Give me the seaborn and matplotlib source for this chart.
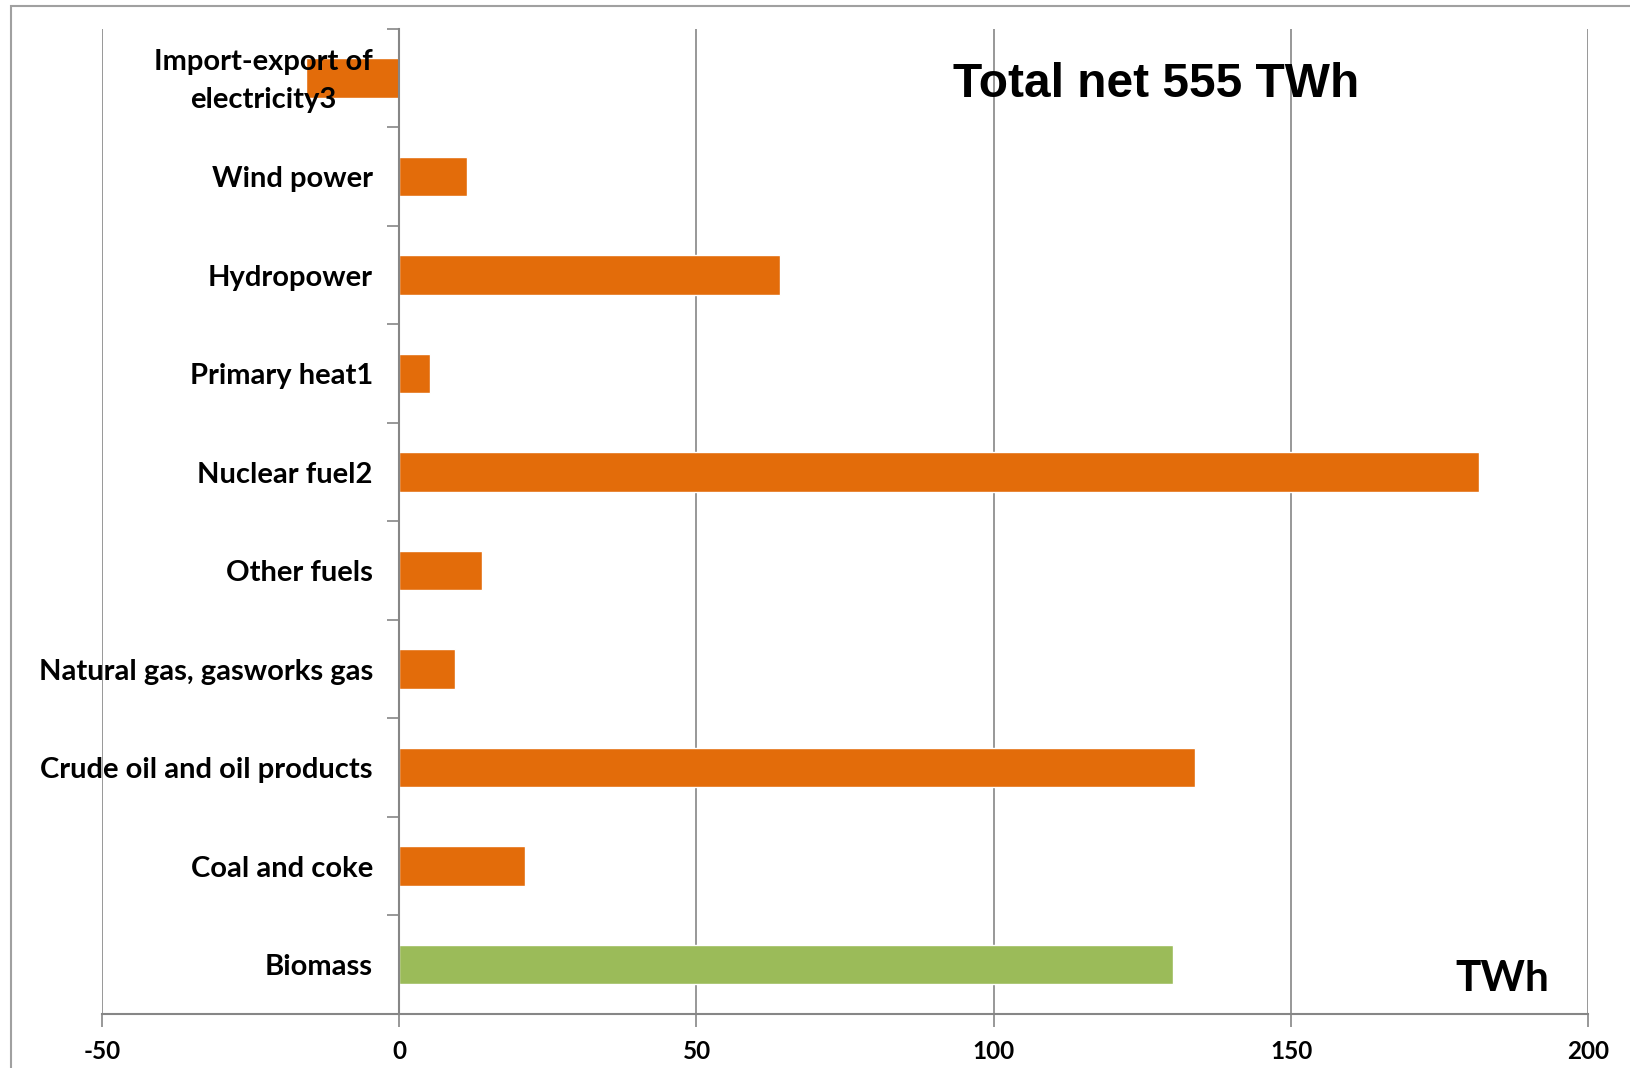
import matplotlib
matplotlib.use("Agg")
import matplotlib.pyplot as plt
import matplotlib.patches as mpatches
import seaborn as sns
import pandas as pd

# Net energy supply by source, TWh
sources = [
    "Import-export of\nelectricity3",
    "Wind power",
    "Hydropower",
    "Primary heat1",
    "Nuclear fuel2",
    "Other fuels",
    "Natural gas, gasworks gas",
    "Crude oil and oil products",
    "Coal and coke",
    "Biomass",
]
twh = [-15.6, 11.4, 64.0, 5.2, 181.6, 14.0, 9.4, 133.9, 21.2, 130.1]
kind = ["other"] * 9 + ["bio"]
x_ticks = [-50, 0, 50, 100, 150, 200]

df = pd.DataFrame({"source": sources, "twh": twh, "kind": kind})
palette = {"other": "#E36C0A", "bio": "#9BBB59"}

sns.set_style("white")
plt.rcParams["font.family"] = ["Lato", "DejaVu Sans"]
plt.rcParams["text.color"] = "black"
plt.rcParams["xtick.color"] = "black"

fig = plt.figure(figsize=(16.3, 10.68), dpi=100)
ax = fig.add_axes([0.0625, 0.051, 0.912, 0.922])

sns.barplot(data=df, y="source", x="twh", hue="kind", palette=palette,
            width=0.4, orient="h", legend=False, ax=ax, saturation=1)

grey = "#868686"
ax.set_xlim(-50, 200)
ax.set_ylim(len(sources) - 0.5, -0.5)
ax.set_xticks(x_ticks)
ax.set_xticklabels([str(v) for v in x_ticks], fontsize=17.5, fontweight="bold")
ax.xaxis.grid(True, color=grey, linewidth=1.2)
ax.set_axisbelow(True)
ax.tick_params(axis="x", direction="out", length=9, width=1.2, color=grey,
               labelcolor="black", pad=10, bottom=True)

# Category axis crossing at zero, ticks between categories
for side in ("top", "right"):
    ax.spines[side].set_visible(False)
ax.spines["left"].set_position(("data", 0))
ax.spines["left"].set_color(grey)
ax.spines["left"].set_linewidth(1.5)
ax.spines["bottom"].set_color(grey)
ax.spines["bottom"].set_linewidth(1.5)

ax.set_yticks([i - 0.5 for i in range(len(sources) + 1)])
ax.set_yticklabels([])
ax.tick_params(axis="y", which="major", direction="out", length=9, width=1.2,
               color=grey, left=True)
ax.set_xlabel("")
ax.set_ylabel("")

# Category names sit left of the zero axis, drawn on top of the bars
for i, name in enumerate(sources):
    ax.annotate(name, xy=(0, i), xytext=(-19, -2), textcoords="offset points",
                ha="right", va="center", multialignment="center",
                fontsize=21, fontweight="bold", color="black",
                linespacing=1.55, zorder=5, annotation_clip=False)

ax.text(127.3, 0.943, "Total net 555 TWh", transform=ax.get_xaxis_transform(),
        ha="center", va="center", fontsize=34.5, fontweight="bold",
        family="Liberation Sans", color="black", zorder=5)
ax.text(193.4, 0.035, "TWh", transform=ax.get_xaxis_transform(),
        ha="right", va="center", fontsize=30.5, fontweight="bold",
        color="black", zorder=5)

# Chart-area frame
fig.patches.append(mpatches.Rectangle((0.007, -0.5), 2, 0.9944 + 0.5,
                                      transform=fig.transFigure, fill=False,
                                      edgecolor="#A0A0A0", linewidth=1.5))

fig.savefig("out.png", dpi=100)
